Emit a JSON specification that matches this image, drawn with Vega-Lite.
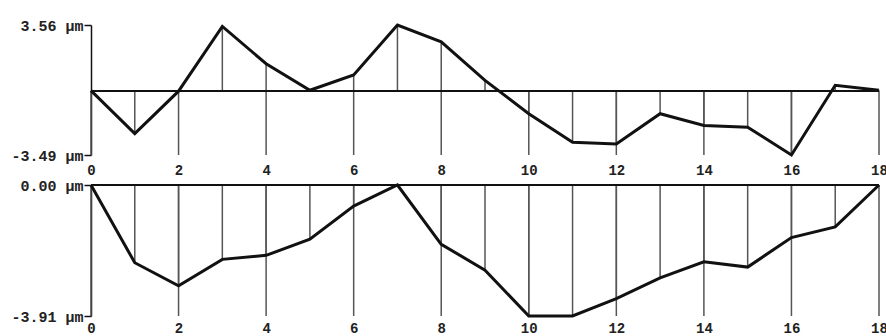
{
  "$schema": "https://vega.github.io/schema/vega-lite/v6.json",
  "padding": {"left": 10, "top": 18, "right": 0, "bottom": 0},
  "spacing": 1,
  "background": "white",
  "config": {
    "view": {"stroke": null},
    "axis": {"labelFont": "Liberation Mono", "labelFontWeight": "bold", "labelColor": "#222", "grid": false, "title": null}
  },
  "data": {"values": [
    {"x": 0, "top": 0, "bottom": 0},
    {"x": 1, "top": -2.33, "bottom": -2.32},
    {"x": 2, "top": -0.03, "bottom": -3.01},
    {"x": 3, "top": 3.48, "bottom": -2.22},
    {"x": 4, "top": 1.46, "bottom": -2.1},
    {"x": 5, "top": 0.02, "bottom": -1.62},
    {"x": 6, "top": 0.85, "bottom": -0.63},
    {"x": 7, "top": 3.56, "bottom": 0},
    {"x": 8, "top": 2.65, "bottom": -1.77},
    {"x": 9, "top": 0.56, "bottom": -2.54},
    {"x": 10, "top": -1.25, "bottom": -3.91},
    {"x": 11, "top": -2.8, "bottom": -3.91},
    {"x": 12, "top": -2.89, "bottom": -3.39},
    {"x": 13, "top": -1.25, "bottom": -2.77},
    {"x": 14, "top": -1.89, "bottom": -2.29},
    {"x": 15, "top": -1.98, "bottom": -2.45},
    {"x": 16, "top": -3.49, "bottom": -1.57},
    {"x": 17, "top": 0.29, "bottom": -1.25},
    {"x": 18, "top": 0.02, "bottom": 0}
  ]},
  "vconcat": [
    {
      "width": 788,
      "height": 130,
      "encoding": {
        "x": {"field": "x", "type": "quantitative", "scale": {"domain": [0, 18], "nice": false, "zero": false},
          "axis": {"values": [0, 2, 4, 6, 8, 10, 12, 14, 16, 18], "domain": false, "ticks": false, "labelPadding": 8, "labelFontSize": 14, "labelFlush": false}}
      },
      "layer": [
        {
          "transform": [{"filter": "datum.x % 2 == 0"}],
          "mark": {"type": "rule", "color": "#555", "strokeWidth": 1.5},
          "encoding": {"y": {"datum": 0, "type": "quantitative"}, "y2": {"datum": -3.49}}
        },
        {
          "mark": {"type": "rule", "color": "#555", "strokeWidth": 1.5},
          "encoding": {
            "y": {"field": "top", "type": "quantitative", "scale": {"domain": [-3.49, 3.56], "nice": false, "zero": false},
              "axis": {"values": [-3.49, 3.56], "domainColor": "#111", "domainWidth": 1.5, "tickColor": "#111", "tickWidth": 1.5, "tickSize": 7, "labelPadding": 1, "labelFontSize": 15,
                "labelExpr": "replace(format(datum.value, '.2f'), '\u2212', '-') + ' \u00b5m'"}},
            "y2": {"datum": 0}
          }
        },
        {
          "mark": {"type": "rule", "color": "#111", "strokeWidth": 1.5},
          "encoding": {"x": {"datum": 0, "type": "quantitative"}, "x2": {"datum": 18}, "y": {"datum": 0, "type": "quantitative"}}
        },
        {
          "mark": {"type": "line", "color": "#111", "strokeWidth": 3},
          "encoding": {"y": {"field": "top", "type": "quantitative"}}
        }
      ]
    },
    {
      "width": 788,
      "height": 131,
      "encoding": {
        "x": {"field": "x", "type": "quantitative", "scale": {"domain": [0, 18], "nice": false, "zero": false},
          "axis": {"values": [0, 2, 4, 6, 8, 10, 12, 14, 16, 18], "domain": false, "ticks": false, "labelPadding": 5, "labelFontSize": 14, "labelFlush": false}}
      },
      "layer": [
        {
          "transform": [{"filter": "datum.x % 2 == 0"}],
          "mark": {"type": "rule", "color": "#555", "strokeWidth": 1.5},
          "encoding": {"y": {"datum": 0, "type": "quantitative"}, "y2": {"datum": -3.91}}
        },
        {
          "mark": {"type": "rule", "color": "#555", "strokeWidth": 1.5},
          "encoding": {
            "y": {"field": "bottom", "type": "quantitative", "scale": {"domain": [-3.91, 0], "nice": false, "zero": false},
              "axis": {"values": [-3.91, 0], "domainColor": "#111", "domainWidth": 1.5, "tickColor": "#111", "tickWidth": 1.5, "tickSize": 7, "labelPadding": 1, "labelFontSize": 15,
                "labelExpr": "replace(format(datum.value, '.2f'), '\u2212', '-') + ' \u00b5m'"}},
            "y2": {"datum": 0}
          }
        },
        {
          "mark": {"type": "rule", "color": "#111", "strokeWidth": 1.5},
          "encoding": {"x": {"datum": 0, "type": "quantitative"}, "x2": {"datum": 18}, "y": {"datum": 0, "type": "quantitative"}}
        },
        {
          "mark": {"type": "line", "color": "#111", "strokeWidth": 3},
          "encoding": {"y": {"field": "bottom", "type": "quantitative"}}
        }
      ]
    }
  ]
}
